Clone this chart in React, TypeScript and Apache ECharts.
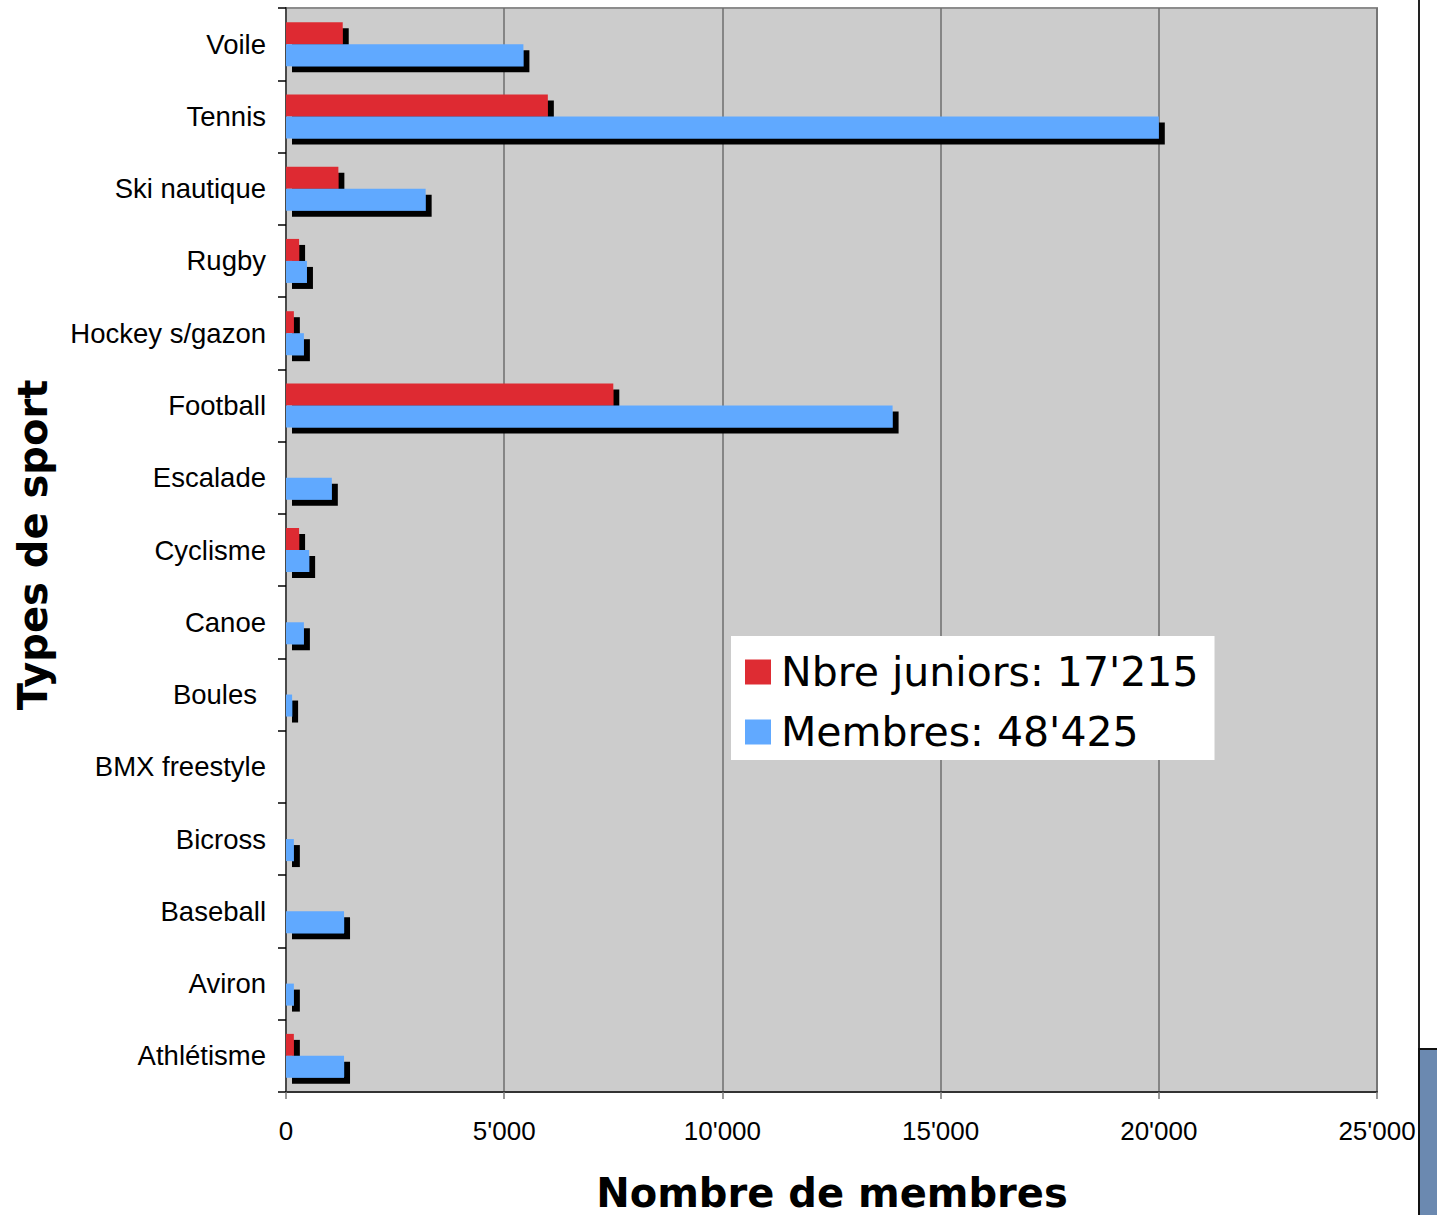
import React, { useEffect, useRef } from "react";
import * as echarts from "echarts";

const categories = [
  "Voile",
  "Tennis",
  "Ski nautique",
  "Rugby",
  "Hockey s/gazon",
  "Football",
  "Escalade",
  "Cyclisme",
  "Canoe",
  "Boules",
  "BMX freestyle",
  "Bicross",
  "Baseball",
  "Aviron",
  "Athlétisme",
];
const juniors = [1300, 6000, 1200, 300, 180, 7500, 0, 300, 0, 0, 0, 0, 0, 0, 180];
const membres = [5440, 20000, 3200, 480, 410, 13900, 1050, 530, 410, 140, 0, 180, 1330, 180, 1330];
const seriesNames = ["Nbre juniors: 17'215", "Membres: 48'425"];
const xTitle = "Nombre de membres";
const yTitle = "Types de sport";

const fmt = (v: number) => String(v).replace(/\B(?=(\d{3})+(?!\d))/g, "'");
const LABEL_FONT = "'Liberation Sans', Arial, sans-serif";
const TITLE_FONT = "'DejaVu Sans', Verdana, sans-serif";

export default function App() {
  const ref = useRef<HTMLDivElement>(null);
  useEffect(() => {
    const chart = echarts.init(ref.current!, undefined, { renderer: "svg" });
    const shadow = { shadowColor: "#000", shadowOffsetX: 6, shadowOffsetY: 6, shadowBlur: 0 };
    chart.setOption({
      animation: false,
      backgroundColor: "#ffffff",
      grid: {
        left: 286,
        top: 8,
        right: 60,
        bottom: 123,
        show: true,
        backgroundColor: "#cccccc",
        borderColor: "#8c8c8c",
        borderWidth: 2,
        containLabel: false,
      },
      legend: {
        orient: "vertical",
        left: 731,
        top: 636,
        backgroundColor: "#ffffff",
        padding: [12, 16, 4, 14],
        itemGap: 12,
        itemWidth: 26,
        itemHeight: 25,
        icon: "rect",
        itemStyle: { shadowColor: "transparent", shadowOffsetX: 0, shadowOffsetY: 0, borderWidth: 0 },
        formatter: (name: string) => "{t|" + name + "}",
        textStyle: {
          fontFamily: TITLE_FONT,
          fontSize: 41,
          color: "#000",
          lineHeight: 48,
          rich: {
            t: {
              fontFamily: TITLE_FONT,
              fontSize: 41,
              color: "#000",
              lineHeight: 48,
              padding: [0, 0, 0, 5],
            },
          },
        },
        data: seriesNames,
      },
      xAxis: {
        type: "value",
        min: 0,
        max: 25000,
        interval: 5000,
        axisLine: { show: true, lineStyle: { color: "#333", width: 2 } },
        axisTick: { show: true, length: 7, lineStyle: { color: "#777", width: 1.5 } },
        splitLine: { show: true, lineStyle: { color: "#6e6e6e", width: 1.5 } },
        axisLabel: {
          formatter: (v: number) => fmt(v),
          fontFamily: LABEL_FONT,
          fontSize: 26,
          color: "#000",
          margin: 26,
          showMinLabel: true,
          showMaxLabel: true,
        },
      },
      yAxis: {
        type: "category",
        inverse: true,
        data: categories,
        axisLine: { show: true, lineStyle: { color: "#4a4a4a", width: 2 } },
        axisTick: { show: true, length: 8, lineStyle: { color: "#000", width: 1.5 } },
        splitLine: { show: false },
        axisLabel: {
          fontFamily: LABEL_FONT,
          fontSize: 27.5,
          color: "#000",
          margin: 20,
          formatter: (v: string) => (v === "Boules" ? "{p|Boules}" : v),
          rich: {
            p: { fontFamily: LABEL_FONT, fontSize: 27.5, color: "#000", padding: [0, 9, 0, 0] },
          },
        },
      },
      series: [
        {
          name: seriesNames[0],
          type: "bar",
          data: juniors,
          barWidth: 22,
          barGap: "0%",
          itemStyle: { color: "#de2c33", ...shadow },
        },
        {
          name: seriesNames[1],
          type: "bar",
          data: membres,
          barWidth: 22,
          barGap: "0%",
          itemStyle: { color: "#61a9ff", ...shadow },
        },
      ],
      graphic: [
        {
          type: "text",
          x: 832,
          y: 1193,
          style: {
            text: xTitle,
            fontFamily: TITLE_FONT,
            fontWeight: "bold",
            fontSize: 40,
            fill: "#000",
            textAlign: "center",
            textVerticalAlign: "middle",
          },
        },
        {
          type: "text",
          x: 33,
          y: 545,
          rotation: Math.PI / 2,
          style: {
            text: yTitle,
            fontFamily: TITLE_FONT,
            fontWeight: "bold",
            fontSize: 40,
            fill: "#000",
            textAlign: "center",
            textVerticalAlign: "middle",
          },
        },
        {
          type: "line",
          shape: { x1: 1419, y1: 0, x2: 1419, y2: 1215 },
          style: { stroke: "#222", lineWidth: 2 },
        },
        {
          type: "rect",
          shape: { x: 1419, y: 1049, width: 20, height: 170 },
          style: { fill: "#6b89b0", stroke: "#111", lineWidth: 2 },
        },
      ],
    });
    return () => chart.dispose();
  }, []);
  return (
    <div
      ref={ref}
      style={{ position: "fixed", left: 0, top: 0, width: 1437, height: 1215 }}
    />
  );
}
